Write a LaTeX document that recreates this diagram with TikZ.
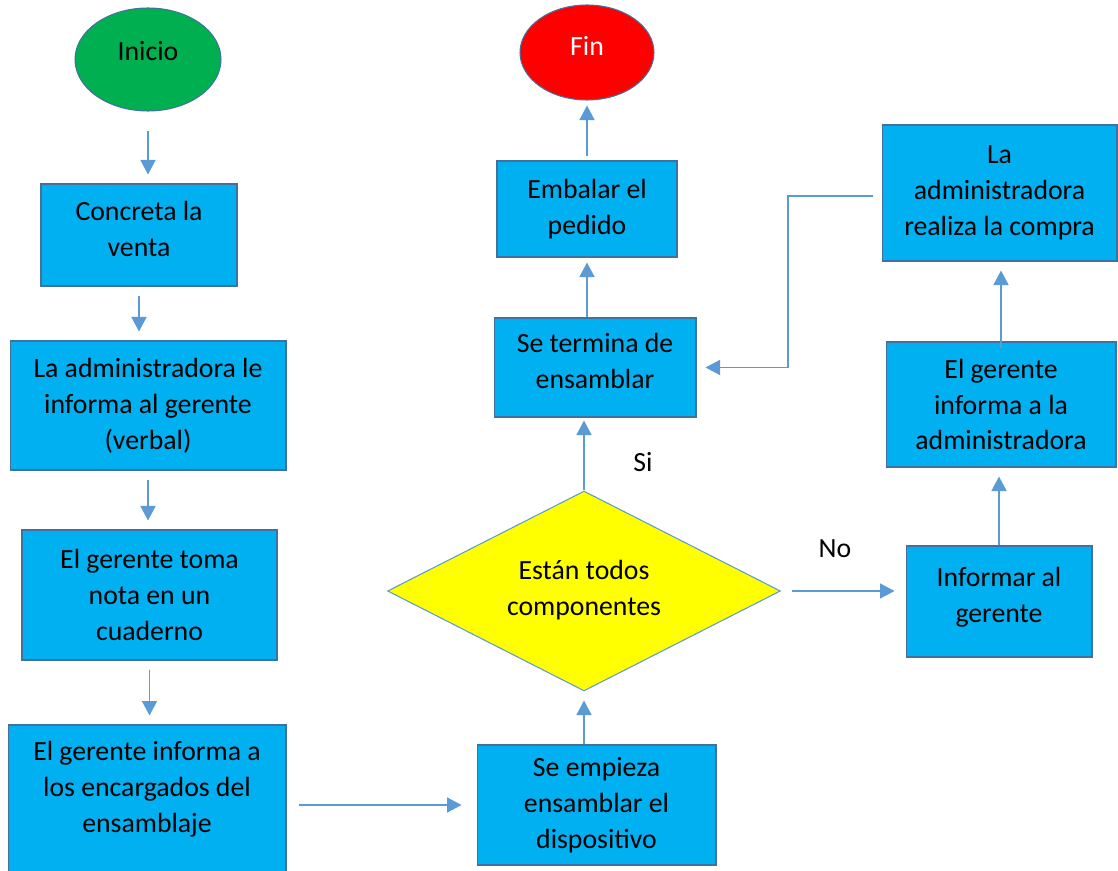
\documentclass[tikz,border=0pt]{standalone}
\usepackage{fontspec}
\setmainfont{Carlito}
\usetikzlibrary{shapes.geometric, arrows.meta}
\definecolor{boxfill}{HTML}{00B0F0}
\definecolor{boxline}{HTML}{41719C}
\definecolor{flecha}{HTML}{5B9BD5}
\definecolor{verde}{HTML}{00B050}
\definecolor{rojo}{HTML}{FF0000}
\definecolor{amarillo}{HTML}{FFFF00}
\begin{document}
\begin{tikzpicture}[
  x=0.02cm, y=-0.02cm,
  every node/.style={font=\fontsize{15.8}{20.4}\selectfont, align=center},
  paso/.style={rectangle, draw=boxline, fill=boxfill, line width=0.6pt, inner sep=2pt},
  extremo/.style={ellipse, draw=boxline, line width=0.6pt, inner sep=0pt},
  sube/.style={text depth=#1},
  flujo/.style={draw=flecha, line width=0.9pt, -{Triangle[length=0.29cm, width=0.3cm]}, shorten <=0.18cm, shorten >=0.18cm}
]
\useasboundingbox (0,0) rectangle (1118,871);

\node[extremo, fill=verde, minimum width=2.92cm, minimum height=2.06cm, sube=0.36cm] (inicio) at (148, 59.5) {Inicio};
\node[paso, minimum width=3.92cm, minimum height=2.04cm, sube=0.24cm] (venta) at (139, 235) {Concreta la\\venta};
\node[paso, minimum width=5.52cm, minimum height=2.58cm] (adm) at (148, 405.5) {La administradora le\\informa al gerente\\(verbal)};
\node[paso, minimum width=5.10cm, minimum height=2.60cm] (nota) at (149.5, 595) {El gerente toma\\nota en un\\cuaderno};
\node[paso, minimum width=5.56cm, minimum height=3.20cm] (encargados) at (147, 805) {El gerente informa a\\los encargados del\\ensamblaje\\\mbox{}};

\node[paso, minimum width=4.78cm, minimum height=2.40cm] (empieza) at (596.5, 805) {Se empieza\\ensamblar el\\dispositivo};
\node[diamond, aspect=2, draw=flecha, fill=amarillo, line width=0.6pt, minimum width=7.86cm, minimum height=4.0cm, inner sep=0pt, sube=0.12cm] (dec) at (584, 591) {Están todos\\componentes};
\node[paso, minimum width=4.04cm, minimum height=1.98cm, sube=0.28cm] (termina) at (595, 367.5) {Se termina de\\ensamblar};
\node[paso, minimum width=3.60cm, minimum height=1.92cm, sube=0.1cm] (embalar) at (587, 209) {Embalar el\\pedido};
\node[extremo, fill=rojo, text=white, minimum width=2.68cm, minimum height=1.90cm, sube=0.28cm] (fin) at (587, 52.5) {Fin};

\node[paso, minimum width=3.72cm, minimum height=2.22cm, sube=0.28cm] (informar) at (999, 601.5) {Informar al\\gerente};
\node[paso, minimum width=4.60cm, minimum height=2.50cm] (gerente) at (1001, 404.5) {El gerente\\informa a la\\administradora};
\node[paso, minimum width=4.70cm, minimum height=2.72cm] (compra) at (999.5, 193) {La\\administradora\\realiza la compra};

\node (si) at (643, 462) {Si};
\node (no) at (835, 549) {No};
\coordinate (codo) at (788, 196);

\draw[flujo, shorten <=0.38cm] (inicio.south) -- (inicio.south |- venta.north);
\draw[flujo] (venta.south) -- (venta.south |- adm.north);
\draw[flujo] (adm.south) -- (adm.south |- nota.north);
\draw[flujo] (nota.south) -- (nota.south |- encargados.north);
\draw[flujo, shorten <=0.24cm, shorten >=0.3cm] (encargados.east |- empieza) -- (empieza.west);
\draw[flujo, shorten <=0pt] (empieza.north -| dec) -- (dec.south);
\draw[flujo, shorten <=0pt, shorten >=0.06cm] (dec.north) -- (dec.north |- termina.south);
\draw[flujo, shorten <=0pt, shorten >=0.1cm] (termina.north -| embalar) -- (embalar.south);
\draw[flujo, shorten <=0.08cm, shorten >=0.1cm] (embalar.north) -- (fin.south);
\draw[flujo, shorten <=0.22cm, shorten >=0.22cm] (dec.east) -- (dec.east -| informar.west);
\draw[flujo, shorten <=0pt] (informar.north) -- (informar.north |- gerente.south);
\draw[flujo, shorten <=-0.14cm] (gerente.north) -- (gerente.north |- compra.south);
\draw[flujo] (compra.west |- codo) -- (codo) |- (termina.east);
\end{tikzpicture}
\end{document}
